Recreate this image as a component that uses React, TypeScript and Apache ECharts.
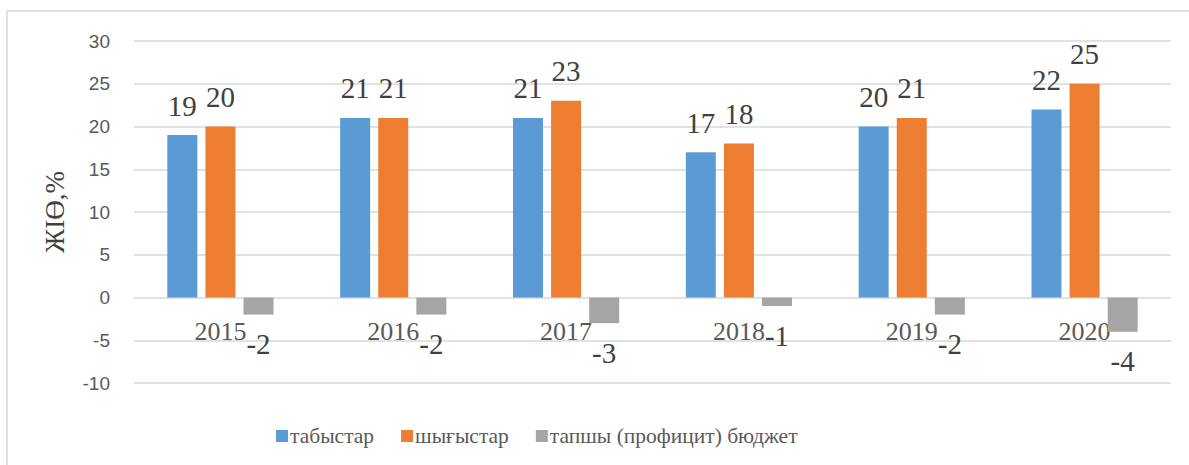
import React, { useEffect, useRef } from "react";
import * as echarts from "echarts";

const years = ["2015", "2016", "2017", "2018", "2019", "2020"];
const revenues = [19, 21, 21, 17, 20, 22];
const expenses = [20, 21, 23, 18, 21, 25];
const deficit = [-2, -2, -3, -1, -2, -4];
const seriesNames = ["табыстар", "шығыстар", "тапшы (профицит) бюджет"];
const colors = ["#5B9BD5", "#ED7D31", "#A5A5A5"];

const SERIF = "Liberation Serif";
const SANS = "Liberation Sans";

export default function App() {
  const ref = useRef<HTMLDivElement>(null);
  useEffect(() => {
    if (!ref.current) return;
    const chart = echarts.init(ref.current, null, { renderer: "svg" });
    const mk = (name: string, data: number[], color: string, neg = false) => ({
      name,
      type: "bar",
      data,
      barWidth: 30,
      barGap: "27%",
      itemStyle: { color },
      label: {
        show: true,
        position: neg ? "bottom" : "top",
        distance: 15,
        fontFamily: SERIF,
        fontSize: 29,
        fontWeight: "normal",
        color: "#404040",
      },
    });
    chart.setOption({
      animation: false,
      textStyle: { fontFamily: SERIF },
      graphic: [
        {
          type: "rect",
          shape: { x: 7, y: 11, width: 1200, height: 480 },
          style: { fill: "none", stroke: "#d9d9d9", lineWidth: 1.5 },
          silent: true,
        },
      ],
      grid: { left: 134, right: 18, top: 41, bottom: 82 },
      legend: {
        left: 271,
        top: 420,
        itemWidth: 12,
        itemHeight: 12,
        itemGap: 27,
        icon: "rect",
        textStyle: { fontFamily: SERIF, fontSize: 21.5, color: "#595959", padding: [0, 0, 0, -3] },
        data: seriesNames,
      },
      xAxis: {
        type: "category",
        data: years,
        axisLine: { show: false, onZero: false },
        axisTick: { show: false },
        axisLabel: { fontFamily: SERIF, fontSize: 26, color: "#595959", margin: -65 },
      },
      yAxis: {
        type: "value",
        min: -10,
        max: 30,
        interval: 5,
        name: "ЖІӨ,%",
        nameLocation: "middle",
        nameGap: 66,
        nameRotate: 90,
        nameTextStyle: { fontFamily: SERIF, fontSize: 27, color: "#404040" },
        axisLine: { show: false },
        axisTick: { show: false },
        axisLabel: { fontFamily: SANS, fontSize: 19, color: "#595959", margin: 24 },
        splitLine: { lineStyle: { color: "#d9d9d9", width: 1.5 } },
      },
      series: [
        mk(seriesNames[0], revenues, colors[0]),
        mk(seriesNames[1], expenses, colors[1]),
        mk(seriesNames[2], deficit, colors[2], true),
      ],
    });
    return () => chart.dispose();
  }, []);
  return (
    <div
      ref={ref}
      style={{ position: "fixed", left: 0, top: 0, width: 1189, height: 465, background: "#fff" }}
    />
  );
}
